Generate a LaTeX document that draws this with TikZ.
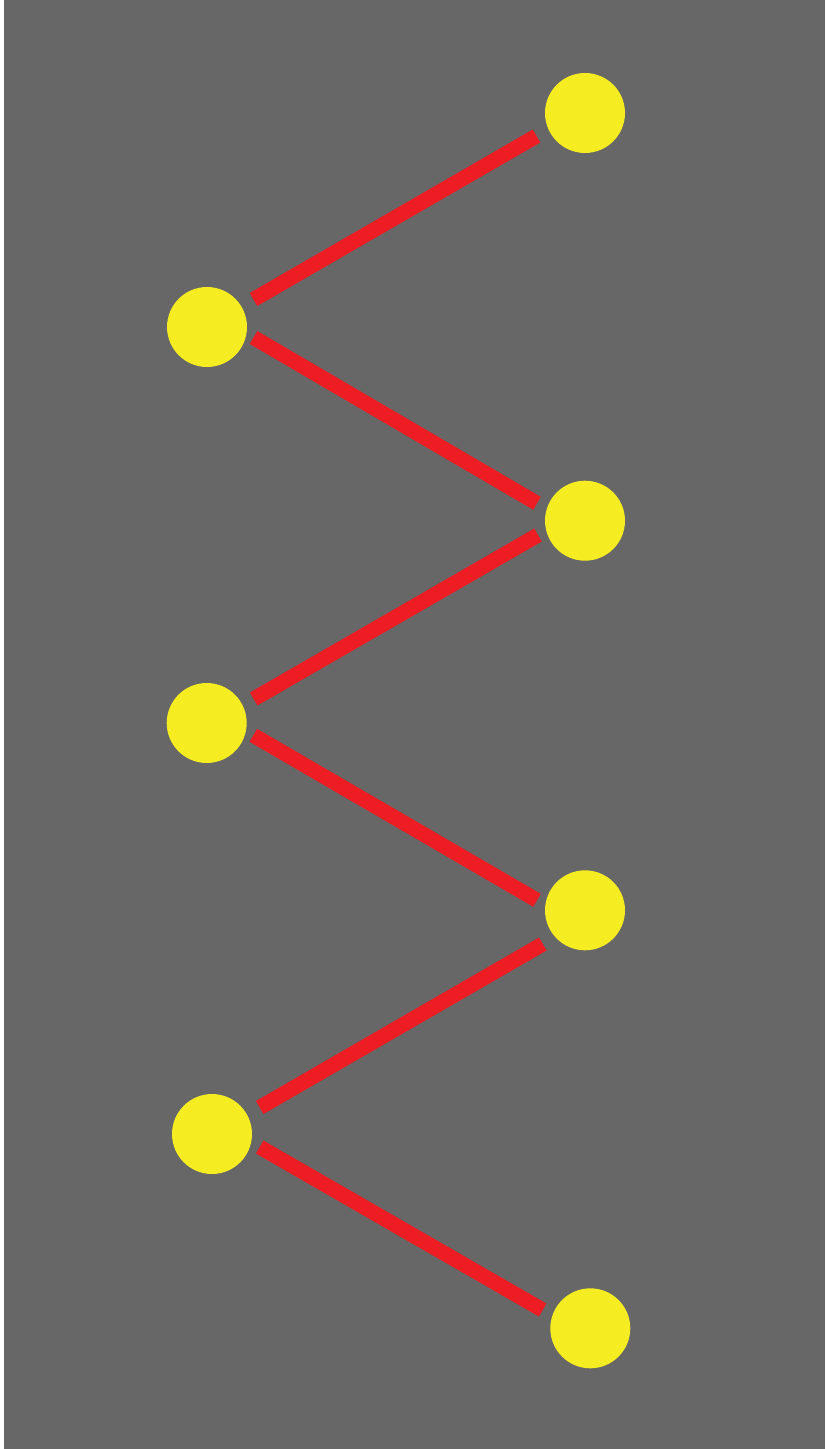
\documentclass[tikz,border=0pt]{standalone}
\usetikzlibrary{calc}
\definecolor{bggray}{HTML}{666766}
\definecolor{dotyellow}{HTML}{F5EC22}
\definecolor{linkred}{HTML}{EE1D24}
\tikzset{
  dot/.style={circle,fill=dotyellow,minimum size=1.6cm,inner sep=0pt},
  link/.style={linkred,line width=0.3cm}
}
\begin{document}
\begin{tikzpicture}[x=0.02cm,y=-0.02cm]
  \useasboundingbox (0,0) rectangle (825,1449);
  \fill[bggray] (4,0) rectangle (825,1449);
  \foreach \n/\x/\y in {1/585/113, 2/207/327, 3/585/520.7, 4/206.7/723, 5/585/910.3, 6/212/1134, 7/590.3/1328.3} {
    \node[dot] (c\n) at (\x,\y) {};
  }
  \foreach \a/\b/\ax/\ay/\bx/\by in {1/2/-48.5/23/46.5/-27.5, 2/3/46.5/10.5/-48/-17.4, 3/4/-47/14.3/47/-24,
    4/5/46.6/12.3/-48/-10, 5/6/-42.2/33.7/47.7/-26.5, 6/7/47.7/13/-47.6/-18.3} {
    \draw[link] ($(c\a)+(\ax,\ay)$) -- ($(c\b)+(\bx,\by)$);
  }
\end{tikzpicture}
\end{document}
